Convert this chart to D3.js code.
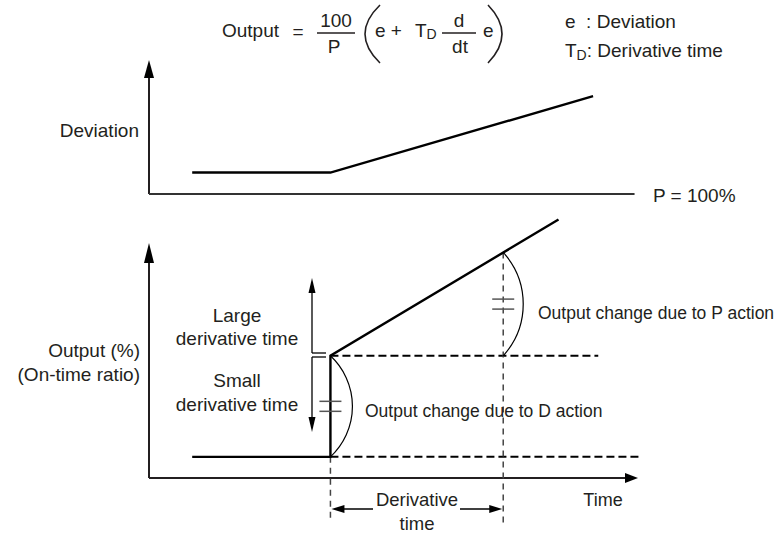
<!DOCTYPE html>
<html><head><meta charset="utf-8">
<script src="https://cdn.jsdelivr.net/npm/d3@7"></script>
<style>
html,body{margin:0;padding:0;background:#fff;}
text{font-family:"Liberation Sans",Arial,sans-serif;fill:#231f20;}
</style></head>
<body>
<svg id="c" width="777" height="533"></svg>
<script>
// ---- data (schematic values, arbitrary units) ----
const derivTime = 1;                       // T_D, in time units
const devTimes = [-0.8, 0, 1.52];          // deviation curve: time
const devValues = [16, 16, 73];            // deviation curve: value
const outTimes = [-0.8, 0, 0, 1.32];       // output curve: time
const outValues = [9, 9, 52, 110];         // output curve: value (%)
const baseLevel = 9;                       // output before step
const pLevel = 52;                         // output right after D kick
const pAtTD = 96;                          // output at t = T_D
const axisLabels = {deviation:"Deviation", output:["Output (%)","(On-time ratio)"], time:"Time", p:"P = 100%"};

const svg = d3.select("#c");
const x = d3.scaleLinear().domain([-1.05, 1.78]).range([149, 638]);
const yDev = d3.scaleLinear().domain([0, 100]).range([194, 60]);
const yOut = d3.scaleLinear().domain([0, 100]).range([478, 243]);
const line = d3.line();

function arrowHead(tip, dir, len, half, cls){
  // dir: unit vector pointing toward tip
  const [tx,ty]=tip,[dx,dy]=dir;
  const bx=tx-dx*len, by=ty-dy*len;
  const px=-dy*half, py=dx*half;
  svg.append("path").attr("d",`M${tx},${ty}L${bx+px},${by+py}L${bx-px},${by-py}Z`).attr("fill",cls||"#000");
}

// ---- formula ----
const f = svg.append("g");
f.append("text").attr("x",222).attr("y",37).attr("font-size",19).text("Output");
f.append("text").attr("x",298).attr("y",38).attr("font-size",19).attr("text-anchor","middle").text("=");
f.append("text").attr("x",336).attr("y",27).attr("font-size",19).attr("text-anchor","middle").text("100");
f.append("line").attr("x1",317).attr("x2",355).attr("y1",33).attr("y2",33).attr("stroke","#231f20").attr("stroke-width",1.3);
f.append("text").attr("x",334).attr("y",53).attr("font-size",19).attr("text-anchor","middle").text("P");
f.append("path").attr("d","M380,5Q350,34 380,63").attr("fill","none").attr("stroke","#231f20").attr("stroke-width",1.6);
f.append("text").attr("x",375).attr("y",37).attr("font-size",19).text("e +");
const td1=f.append("text").attr("x",415).attr("y",37).attr("font-size",19);
td1.append("tspan").text("T");
td1.append("tspan").attr("font-size",14).attr("dy",2).text("D");
f.append("line").attr("x1",442).attr("x2",476).attr("y1",33).attr("y2",33).attr("stroke","#231f20").attr("stroke-width",1.3);
f.append("text").attr("x",459).attr("y",27).attr("font-size",19).attr("text-anchor","middle").text("d");
f.append("text").attr("x",460).attr("y",53).attr("font-size",19).attr("text-anchor","middle").text("dt");
f.append("text").attr("x",483).attr("y",37).attr("font-size",19).text("e");
f.append("path").attr("d","M488,5Q516,34 488,63").attr("fill","none").attr("stroke","#231f20").attr("stroke-width",1.6);

// legend
const lg = svg.append("g");
lg.append("text").attr("x",565).attr("y",28).attr("font-size",19).attr("xml:space","preserve").text("e  : Deviation");
const l2=lg.append("text").attr("x",565).attr("y",57).attr("font-size",19);
l2.append("tspan").text("T");
l2.append("tspan").attr("font-size",14).attr("dy",3).text("D");
l2.append("tspan").attr("dy",-3).text(": Derivative time");

// ---- top panel: deviation ----
svg.append("line").attr("x1",x(-1.05)).attr("x2",x(-1.05)).attr("y1",yDev(0)).attr("y2",yDev(87)).attr("stroke","#231f20").attr("stroke-width",2);
arrowHead([x(-1.05),yDev(100)],[0,-1],18,5,"#000");
svg.append("line").attr("x1",x(-1.05)).attr("x2",x(1.76)).attr("y1",yDev(0)).attr("y2",yDev(0)).attr("stroke","#333").attr("stroke-width",2);
svg.append("path").attr("d",line(devTimes.map((t,i)=>[x(t),yDev(devValues[i])]))).attr("fill","none").attr("stroke","#000").attr("stroke-width",2.4);
svg.append("text").attr("x",139).attr("y",137).attr("font-size",19).attr("text-anchor","end").text(axisLabels.deviation);
svg.append("text").attr("x",653).attr("y",202).attr("font-size",19).text(axisLabels.p);

// ---- bottom panel: output ----
svg.append("line").attr("x1",x(-1.05)).attr("x2",x(-1.05)).attr("y1",yOut(0)).attr("y2",yOut(94)).attr("stroke","#231f20").attr("stroke-width",2);
arrowHead([x(-1.05),yOut(100)],[0,-1],20,5,"#000");
svg.append("line").attr("x1",x(-1.05)).attr("x2",x(1.74)).attr("y1",yOut(0)).attr("y2",yOut(0)).attr("stroke","#231f20").attr("stroke-width",2);
arrowHead([x(1.78),yOut(0)],[1,0],13,5,"#000");

// dashed reference lines
svg.append("line").attr("x1",x(0)).attr("x2",x(1.55)).attr("y1",yOut(pLevel)).attr("y2",yOut(pLevel)).attr("stroke","#000").attr("stroke-width",2).attr("stroke-dasharray","8,4");
svg.append("line").attr("x1",x(0)).attr("x2",x(1.79)).attr("y1",yOut(baseLevel)).attr("y2",yOut(baseLevel)).attr("stroke","#000").attr("stroke-width",2).attr("stroke-dasharray","8,4");
svg.append("line").attr("x1",x(0)).attr("x2",x(0)).attr("y1",yOut(baseLevel)).attr("y2",yOut(-19)).attr("stroke","#444").attr("stroke-width",1.5).attr("stroke-dasharray","6,5");
svg.append("line").attr("x1",x(derivTime)).attr("x2",x(derivTime)).attr("y1",yOut(pAtTD)).attr("y2",yOut(-19)).attr("stroke","#444").attr("stroke-width",1.5).attr("stroke-dasharray","6,5");

// output curve
svg.append("path").attr("d",line(outTimes.map((t,i)=>[x(t),yOut(outValues[i])]))).attr("fill","none").attr("stroke","#000").attr("stroke-width",2.4).attr("stroke-linejoin","miter");

// D-action arc
function bulge(xp,y1,y2,s){
  const h=(y2-y1)/2, r=(h*h+s*s)/(2*s);
  return `M${xp},${y1}A${r},${r} 0 0 1 ${xp},${y2}`;
}
svg.append("path").attr("d",bulge(x(0),yOut(pLevel),yOut(baseLevel),22)).attr("fill","none").attr("stroke","#000").attr("stroke-width",1.2);
svg.append("path").attr("d",bulge(x(derivTime),yOut(pAtTD),yOut(pLevel),20)).attr("fill","none").attr("stroke","#000").attr("stroke-width",1.2);
// equal marks
[[x(0),(yOut(pLevel)+yOut(baseLevel))/2],[x(derivTime),(yOut(pAtTD)+yOut(pLevel))/2]].forEach(([cx,cy])=>{
  [-5,5].forEach(d=>svg.append("line").attr("x1",cx-11).attr("x2",cx+11).attr("y1",cy+d).attr("y2",cy+d).attr("stroke","#555").attr("stroke-width",1.5));
});
svg.append("text").attr("x",365).attr("y",417).attr("font-size",17.5).text("Output change due to D action");
svg.append("text").attr("x",538).attr("y",319).attr("font-size",17.5).text("Output change due to P action");

// large / small derivative time arrows
const ax=312;
svg.append("line").attr("x1",ax).attr("x2",ax).attr("y1",353).attr("y2",290).attr("stroke","#000").attr("stroke-width",1.3);
svg.append("line").attr("x1",ax).attr("x2",326).attr("y1",353).attr("y2",353).attr("stroke","#000").attr("stroke-width",1.3);
arrowHead([ax,278],[0,-1],15,3.5,"#000");
svg.append("line").attr("x1",ax).attr("x2",ax).attr("y1",357).attr("y2",420).attr("stroke","#000").attr("stroke-width",1.3);
svg.append("line").attr("x1",ax).attr("x2",326).attr("y1",357).attr("y2",357).attr("stroke","#000").attr("stroke-width",1.3);
arrowHead([ax,432],[0,1],15,3.5,"#000");
svg.append("text").attr("x",237).attr("y",322).attr("font-size",19).attr("text-anchor","middle").text("Large");
svg.append("text").attr("x",237).attr("y",345).attr("font-size",19).attr("text-anchor","middle").text("derivative time");
svg.append("text").attr("x",237).attr("y",387).attr("font-size",19).attr("text-anchor","middle").text("Small");
svg.append("text").attr("x",237).attr("y",411).attr("font-size",19).attr("text-anchor","middle").text("derivative time");

svg.append("text").attr("x",140).attr("y",357).attr("font-size",19).attr("text-anchor","end").text(axisLabels.output[0]);
svg.append("text").attr("x",140).attr("y",381).attr("font-size",19).attr("text-anchor","end").text(axisLabels.output[1]);

// derivative time dimension
const dy=yOut(-13.2);
svg.append("line").attr("x1",x(0)+10).attr("x2",373).attr("y1",dy).attr("y2",dy).attr("stroke","#000").attr("stroke-width",1.3);
arrowHead([x(0)+1,dy],[-1,0],13,4,"#000");
svg.append("line").attr("x1",460).attr("x2",x(derivTime)-10).attr("y1",dy).attr("y2",dy).attr("stroke","#000").attr("stroke-width",1.3);
arrowHead([x(derivTime)-1,dy],[1,0],13,4,"#000");
svg.append("text").attr("x",417).attr("y",506).attr("font-size",18.5).attr("text-anchor","middle").text("Derivative");
svg.append("text").attr("x",417).attr("y",530).attr("font-size",18.5).attr("text-anchor","middle").text("time");
svg.append("text").attr("x",603).attr("y",506).attr("font-size",18).attr("text-anchor","middle").text(axisLabels.time);
</script>
</body></html>
